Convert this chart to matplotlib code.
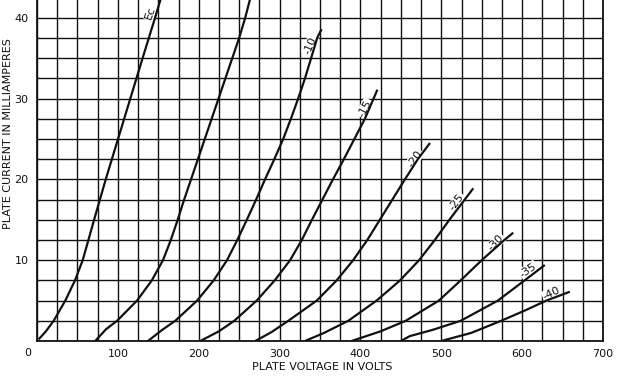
import matplotlib
matplotlib.use("Agg")
import matplotlib.pyplot as plt
import numpy as np

# ---- data (plate voltage V, plate current mA) ----
ec0_v = [2, 11, 20.6, 35, 47, 56.5, 63.6, 70.6, 77.8, 85, 92.6, 100.2, 107.8, 115.4, 123, 130.6, 138.3, 146, 153.5]
ec0_i = [0.2, 1.2, 2.5, 5, 7.5, 10, 12.5, 15, 17.5, 20, 22.5, 25, 27.5, 30, 32.5, 35, 37.5, 40, 42.5]

m5_v = [72, 85.3, 99, 123.7, 142, 155.8, 165.5, 174, 182, 190.5, 199, 207.5, 216, 224.5, 233, 241.5, 250, 257.5, 264]
m5_i = [0, 1.45, 2.5, 5, 7.5, 10, 12.5, 15, 17.5, 20, 22.5, 25, 27.5, 30, 32.5, 35, 37.5, 40, 42.5]

m10_v = [137.3, 154.6, 171, 198, 218.5, 235, 247.7, 259.5, 271, 282, 293.5, 304.5, 314, 323, 331.4, 339, 346.5, 352]
m10_i = [0, 1.36, 2.5, 5, 7.5, 10, 12.5, 15, 17.5, 20, 22.5, 25, 27.5, 30, 32.5, 35, 37.5, 38.6]

m15_v = [202, 225, 244, 271.7, 294, 313, 327.5, 340, 353, 366, 379.5, 392.5, 405.5, 421]
m15_i = [0, 1.2, 2.5, 5, 7.5, 10, 12.5, 15, 17.5, 20, 22.5, 25, 27.5, 31.1]

m20_v = [270, 290, 310.8, 346, 370.6, 391, 408.5, 424, 439.5, 455, 471, 486]
m20_i = [0, 1.1, 2.5, 5, 7.5, 10, 12.5, 15, 17.5, 20, 22.5, 24.5]

m25_v = [331.4, 355, 385, 420, 449, 472.5, 492, 510, 529, 539.6]
m25_i = [0, 1.0, 2.5, 5, 7.5, 10, 12.5, 15, 17.5, 18.9]

m30_v = [389, 425, 456, 497, 524, 550, 578, 589]
m30_i = [0, 1.2, 2.5, 5, 7.5, 10, 12.5, 13.4]

m35_v = [450, 461, 490, 524, 570, 603, 628]
m35_i = [0, 0.6, 1.4, 2.5, 5, 7.5, 9.4]

m40_v = [500, 537, 574, 604, 630, 659]
m40_i = [0, 1.0, 2.5, 3.8, 5, 6.1]

curves = [(ec0_v, ec0_i), (m5_v, m5_i), (m10_v, m10_i), (m15_v, m15_i),
          (m20_v, m20_i), (m25_v, m25_i), (m30_v, m30_i), (m35_v, m35_i),
          (m40_v, m40_i)]

# curve labels: text, anchor voltage, anchor current, rotation
label_text = ["Ec", "-10", "-15", "-20", "-25", "-30", "-35", "-40"]
label_v = [139.7, 337.6, 405.6, 467.5, 519, 567.6, 607.6, 636.5]
label_i = [40.6, 36.6, 28.8, 22.6, 17.2, 12.2, 8.8, 5.9]
label_rot = [70, 66, 62, 55, 53, 45, 35, 25]

x_ticks = [100, 200, 300, 400, 500, 600, 700]
y_ticks = [10, 20, 30, 40]

ink = "#111111"

fig = plt.figure(figsize=(6.3, 3.77), dpi=100)
ax = fig.add_axes([37 / 630, 36 / 377, 566 / 630, 341 / 377])
ax.set_xlim(0, 700)
ax.set_ylim(0, 42.2)

ax.set_xticks(x_ticks)
ax.set_xticks(np.arange(0, 701, 25), minor=True)
ax.set_yticks(y_ticks)
ax.set_yticks(np.arange(0, 41, 2.5), minor=True)
ax.grid(True, which="both", color=ink, linewidth=1.0, zorder=1)
ax.set_axisbelow(True)
ax.tick_params(which="both", length=0)
ax.tick_params(axis="x", pad=6, labelsize=8, colors=ink)
ax.tick_params(axis="y", pad=6, labelsize=8, colors=ink)

for s in ["left", "bottom", "right"]:
    ax.spines[s].set_linewidth(1.3)
    ax.spines[s].set_color(ink)
ax.spines["top"].set_visible(False)

for v, i in curves:
    ax.plot(v, i, color=ink, linewidth=1.6, zorder=4, solid_capstyle="butt",
            solid_joinstyle="round")

for t, v, i, r in zip(label_text, label_v, label_i, label_rot):
    ax.text(v, i, t, rotation=r, ha="center", va="center", fontsize=8,
            color=ink, zorder=3,
            bbox=dict(fc="white", ec="none", pad=0.6))

fig.text(28 / 630, 1 - 353 / 377, "0", ha="center", va="center", fontsize=8, color=ink)
fig.text(322 / 630, 1 - 367 / 377, "PLATE VOLTAGE IN VOLTS", ha="center", va="center",
         fontsize=8, color=ink)
fig.text(8 / 630, 1 - 134 / 377, "PLATE CURRENT IN MILLIAMPERES", ha="center", va="center",
         rotation=90, fontsize=8, color=ink)

fig.savefig("out.png", dpi=100)
